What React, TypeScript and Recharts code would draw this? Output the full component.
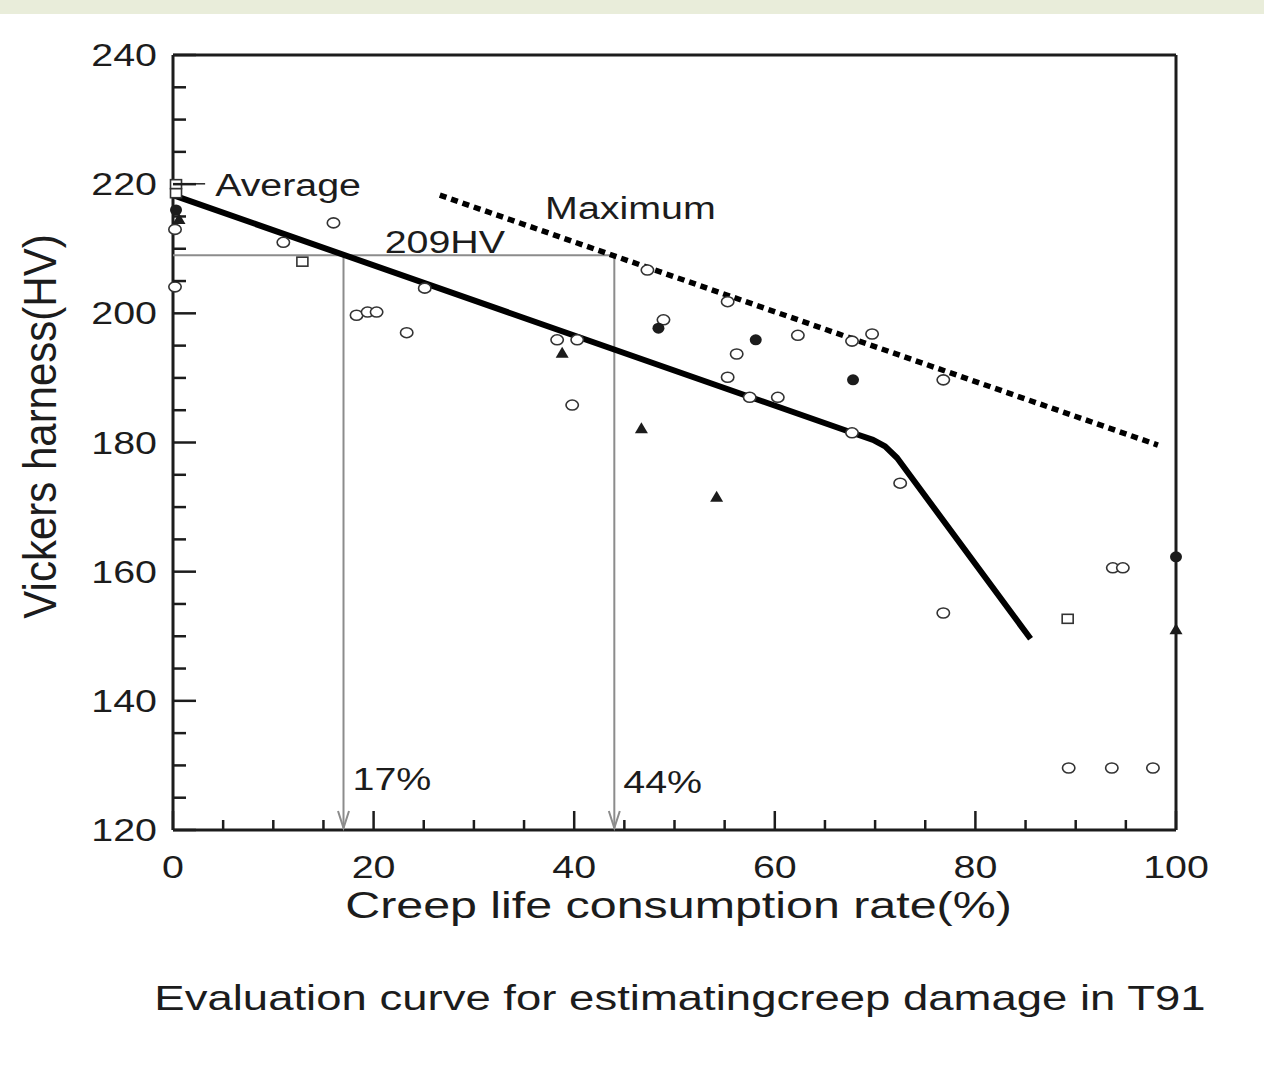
import React from 'react';
import { ScatterChart, Scatter, XAxis, YAxis } from 'recharts';

// axis ticks (every 5, labelled every 20)
const xTicks = [0, 5, 10, 15, 20, 25, 30, 35, 40, 45, 50, 55, 60, 65, 70, 75, 80, 85, 90, 95, 100];
const yTicks = [120, 125, 130, 135, 140, 145, 150, 155, 160, 165, 170, 175, 180, 185, 190, 195, 200, 205, 210, 215, 220, 225, 230, 235, 240];
const xLabelled = [0, 20, 40, 60, 80, 100];
const yLabelled = [120, 140, 160, 180, 200, 220, 240];

// measured points
const openCircles = [
  { x: 0.2, y: 213 }, { x: 0.2, y: 204.1 }, { x: 11, y: 211 }, { x: 16, y: 214 },
  { x: 18.3, y: 199.7 }, { x: 19.4, y: 200.2 }, { x: 20.3, y: 200.2 }, { x: 23.3, y: 197 },
  { x: 25.1, y: 203.9 }, { x: 38.3, y: 195.9 }, { x: 40.3, y: 195.9 }, { x: 39.8, y: 185.8 },
  { x: 48.9, y: 199 }, { x: 47.3, y: 206.7 }, { x: 55.3, y: 201.8 }, { x: 56.2, y: 193.7 },
  { x: 55.3, y: 190.1 }, { x: 57.5, y: 187 }, { x: 60.3, y: 187 }, { x: 62.3, y: 196.6 },
  { x: 67.7, y: 195.7 }, { x: 69.7, y: 196.8 }, { x: 67.7, y: 181.5 }, { x: 76.8, y: 189.7 },
  { x: 72.5, y: 173.7 }, { x: 76.8, y: 153.6 }, { x: 93.7, y: 160.6 }, { x: 94.7, y: 160.6 },
  { x: 89.3, y: 129.6 }, { x: 93.6, y: 129.6 }, { x: 97.7, y: 129.6 },
];
const openSquares = [
  { x: 0.3, y: 220 }, { x: 0.3, y: 218.6 }, { x: 12.9, y: 208 }, { x: 89.2, y: 152.7 },
];
const filledCircles = [
  { x: 0.3, y: 216 }, { x: 48.4, y: 197.7 }, { x: 58.1, y: 195.9 }, { x: 67.8, y: 189.7 }, { x: 100, y: 162.3 },
];
const triangles = [
  { x: 0.6, y: 214.6 }, { x: 38.8, y: 193.9 }, { x: 46.7, y: 182.2 }, { x: 54.2, y: 171.6 }, { x: 100, y: 151.1 },
];

// evaluation curves
const averageCurve = [
  { x: 0, y: 218.3 }, { x: 68.3, y: 181.2 }, { x: 69.8, y: 180.4 }, { x: 71, y: 179.4 }, { x: 72.2, y: 177.6 }, { x: 85.5, y: 149.6 },
];
const maximumLine = [{ x: 26.6, y: 218.3 }, { x: 98.2, y: 179.6 }];

// 209HV read-off
const levelLine = [{ x: 0, y: 209 }, { x: 44, y: 209 }];
const arrow17 = [{ x: 17, y: 209 }, { x: 17, y: 120.3 }];
const arrow44 = [{ x: 44, y: 209 }, { x: 44, y: 120.3 }];

const notes = [
  { x: 4.2, y: 218.2, text: 'Average' },
  { x: 37.1, y: 214.6, text: 'Maximum' },
  { x: 21.1, y: 209.4, text: '209HV' },
  { x: 17.9, y: 126.2, text: '17%' },
  { x: 44.9, y: 125.7, text: '44%' },
];

const INK = '#1c1c1c';
const GREY = '#8c8c8c';
const FONT = '"Liberation Sans", Arial, sans-serif';
const SX = 1.27;

const BottomTick = (p: any) => {
  const { x, y, payload } = p;
  const v = payload.value;
  const major = v % 20 === 0;
  return (
    <g>
      <line x1={x} y1={y} x2={x} y2={y - (major ? 19 : 10)} stroke={INK} strokeWidth={2.5} />
      {xLabelled.includes(v) && (
        <text transform={`translate(${x},${y + 48}) scale(${SX},1)`} textAnchor="middle" fontSize={31} fill={INK} fontFamily={FONT}>{v}</text>
      )}
    </g>
  );
};

const TopTick = (p: any) => {
  const { x, y, payload } = p;
  const major = payload.value % 20 === 0;
  return <line x1={x} y1={y} x2={x} y2={y + (major ? 19 : 10)} stroke={INK} strokeWidth={2.5} />;
};

const LeftTick = (p: any) => {
  const { x, y, payload } = p;
  const v = payload.value;
  const major = v % 20 === 0;
  return (
    <g>
      <line x1={x} y1={y} x2={x + (major ? 23 : 13)} y2={y} stroke={INK} strokeWidth={2.5} />
      {yLabelled.includes(v) && (
        <text transform={`translate(${x - 16},${y + 11}) scale(${SX},1)`} textAnchor="end" fontSize={31} fill={INK} fontFamily={FONT}>{v}</text>
      )}
    </g>
  );
};

const RightTick = (p: any) => {
  const { x, y, payload } = p;
  const major = payload.value % 20 === 0;
  return <line x1={x} y1={y} x2={x - (major ? 23 : 13)} y2={y} stroke={INK} strokeWidth={2.5} />;
};

const XTitle = (p: any) => {
  const vb = p.viewBox;
  return (
    <text transform={`translate(${vb.x + vb.width / 2 + 4},${vb.y + 88}) scale(1.29,1)`} textAnchor="middle" fontSize={37.5} fill={INK} fontFamily={FONT}>
      Creep life consumption rate(%)
    </text>
  );
};

const YTitle = (p: any) => {
  const vb = p.viewBox;
  return (
    <text transform={`translate(56,${vb.y + vb.height / 2 - 16}) scale(1.08,1) rotate(-90)`} textAnchor="middle" fontSize={42} fill={INK} fontFamily={FONT}>
      Vickers harness(HV)
    </text>
  );
};

const Nothing = () => <g />;

const OpenCircle = (p: any) => (
  <ellipse cx={p.cx} cy={p.cy} rx={6.2} ry={5} fill="#fff" stroke="#333" strokeWidth={1.6} />
);
const OpenSquare = (p: any) => (
  <rect x={p.cx - 5.5} y={p.cy - 4.5} width={11} height={9} fill="#fff" stroke="#333" strokeWidth={1.6} />
);
const FilledCircle = (p: any) => <ellipse cx={p.cx} cy={p.cy} rx={6} ry={5.5} fill={INK} />;
const Triangle = (p: any) => (
  <path d={`M${p.cx},${p.cy - 6} L${p.cx + 6.5},${p.cy + 5} L${p.cx - 6.5},${p.cy + 5} Z`} fill={INK} />
);

const ArrowEnd = (p: any) => {
  if (p.payload.y > 150) return <g />;
  return (
    <path d={`M${p.cx - 5.5},${p.cy - 17} L${p.cx},${p.cy} L${p.cx + 5.5},${p.cy - 17}`} fill="none" stroke={GREY} strokeWidth={2} />
  );
};

const NoteText = (p: any) => {
  const t = p.payload.text;
  return (
    <g>
      {t === 'Average' && <line x1={p.cx - 36} y1={p.cy - 12} x2={p.cx - 10} y2={p.cy - 12} stroke="#333" strokeWidth={1.6} />}
      <text transform={`translate(${p.cx},${p.cy}) scale(${SX},1)`} fontSize={31} fill={INK} fontFamily={FONT}>{t}</text>
    </g>
  );
};

export default function App() {
  return (
    <div style={{ position: 'absolute', left: 0, top: 0, width: 1264, height: 1066, background: '#fff', overflow: 'hidden' }}>
      <div style={{ position: 'absolute', left: 0, top: 0, width: 1264, height: 14, background: '#e9edda' }} />
      <div style={{ position: 'absolute', left: 0, top: 0 }}>
        <ScatterChart width={1264} height={1066} margin={{ top: 54, right: 87, bottom: 186, left: 113 }}>
          <XAxis type="number" dataKey="x" domain={[0, 100]} ticks={xTicks} interval={0} height={50}
            tickSize={0} tickMargin={0} tickLine={false} tick={<BottomTick />}
            axisLine={{ stroke: INK, strokeWidth: 3 }} label={<XTitle />} />
          <XAxis xAxisId="top" orientation="top" type="number" dataKey="x" domain={[0, 100]} ticks={xTicks} interval={0} height={1}
            tickSize={0} tickMargin={0} tickLine={false} tick={<TopTick />}
            axisLine={{ stroke: INK, strokeWidth: 3 }} />
          <YAxis type="number" dataKey="y" domain={[120, 240]} ticks={yTicks} interval={0} width={60}
            tickSize={0} tickMargin={0} tickLine={false} tick={<LeftTick />}
            axisLine={{ stroke: INK, strokeWidth: 3 }} label={<YTitle />} />
          <YAxis yAxisId="right" orientation="right" type="number" dataKey="y" domain={[120, 240]} ticks={yTicks} interval={0} width={1}
            tickSize={0} tickMargin={0} tickLine={false} tick={<RightTick />}
            axisLine={{ stroke: INK, strokeWidth: 3 }} />

          <Scatter data={levelLine} line={{ stroke: GREY, strokeWidth: 2 }} shape={<Nothing />} isAnimationActive={false} />
          <Scatter data={arrow17} line={{ stroke: GREY, strokeWidth: 2 }} shape={<ArrowEnd />} isAnimationActive={false} />
          <Scatter data={arrow44} line={{ stroke: GREY, strokeWidth: 2 }} shape={<ArrowEnd />} isAnimationActive={false} />

          <Scatter data={averageCurve} line={{ stroke: '#000', strokeWidth: 6, strokeLinejoin: 'round' }} shape={<Nothing />} isAnimationActive={false} />
          <Scatter data={maximumLine} line={{ stroke: '#000', strokeWidth: 5.5, strokeDasharray: '7 5' }} shape={<Nothing />} isAnimationActive={false} />

          <Scatter data={openCircles} shape={<OpenCircle />} isAnimationActive={false} />
          <Scatter data={openSquares} shape={<OpenSquare />} isAnimationActive={false} />
          <Scatter data={filledCircles} shape={<FilledCircle />} isAnimationActive={false} />
          <Scatter data={triangles} shape={<Triangle />} isAnimationActive={false} />

          <Scatter data={notes} shape={<NoteText />} isAnimationActive={false} />
        </ScatterChart>
      </div>
      <div style={{ position: 'absolute', left: 680, top: 980, whiteSpace: 'nowrap', fontFamily: FONT, fontSize: 35, lineHeight: '35px', color: INK, transform: `translateX(-50%) scaleX(1.3)` }}>
        Evaluation curve for estimatingcreep damage in T91
      </div>
    </div>
  );
}
